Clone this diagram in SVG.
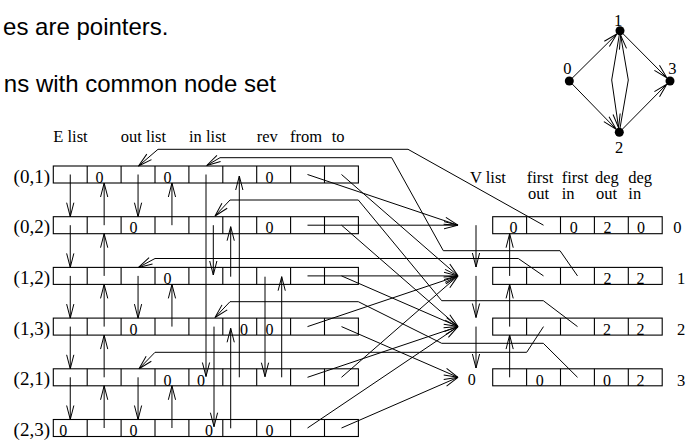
<svg xmlns="http://www.w3.org/2000/svg" width="689" height="440" viewBox="0 0 689 440">
<style>
.b{fill:none;stroke:#000;stroke-width:1.1}
.p{fill:none;stroke:#000;stroke-width:1;marker-end:url(#ah)}
.s{font-family:"Liberation Serif","Times New Roman",serif;font-size:16.5px;fill:#000}
.d{font-family:"Liberation Serif","Times New Roman",serif;font-size:16px;text-anchor:middle;fill:#000}
.l{font-family:"Liberation Serif","Times New Roman",serif;font-size:19px;text-anchor:end;fill:#000}
.h{font-family:"Liberation Sans",Arial,sans-serif;font-size:24px;text-anchor:end;fill:#000}
.n{fill:#000}
</style>
<defs>
<marker id="ah" markerUnits="userSpaceOnUse" markerWidth="16" markerHeight="10" viewBox="-15 -5 16 10" refX="0" refY="0" orient="auto"><path d="M-14,-3.6 L0,0 L-14,3.6" fill="none" stroke="#000" stroke-width="1"/></marker>
<g id="erow"><rect x="53.3" y="0" width="305.1" height="17"/><path d="M87.2,0v17M121.1,0v17M155,0v17M188.9,0v17M222.8,0v17M256.7,0v17M290.6,0v17M324.5,0v17"/></g>
<g id="vrow"><rect x="492.7" y="0" width="169.5" height="17"/><path d="M526.6,0v17M560.5,0v17M594.4,0v17M628.3,0v17"/></g>
</defs>
<rect width="689" height="440" fill="#fff"/>
<text class="h" x="168.5" y="34.5">es are pointers.</text>
<text class="h" x="276" y="91.5">ns with common node set</text>
<g id="headers">
<text class="s" x="53.3" y="141.7">E list</text>
<text class="s" x="120.7" y="141.7">out list</text>
<text class="s" x="189" y="141.7">in list</text>
<text class="s" x="256.7" y="141.7">rev</text>
<text class="s" x="290" y="141.7">from</text>
<text class="s" x="331.7" y="141.7">to</text>
<text class="s" x="470" y="183.3">V list</text>
<text class="s" x="526.7" y="183.3">first</text>
<text class="s" x="528" y="199.3">out</text>
<text class="s" x="561.7" y="183.3">first</text>
<text class="s" x="561.7" y="199.3">in</text>
<text class="s" x="595" y="183.3">deg</text>
<text class="s" x="596" y="199.3">out</text>
<text class="s" x="628.3" y="183.3">deg</text>
<text class="s" x="628.3" y="199.3">in</text>
</g>
<g id="e01"><use href="#erow" y="166" class="b"/><text class="l" x="50" y="182.5">(0,1)</text><text class="d" x="99.5" y="182.7">0</text><text class="d" x="167.5" y="182.7">0</text><text class="d" x="269.5" y="182.7">0</text></g>
<g id="e02"><use href="#erow" y="216.7" class="b"/><text class="l" x="50" y="233.2">(0,2)</text><text class="d" x="133.5" y="233.4">0</text><text class="d" x="269.5" y="233.4">0</text></g>
<g id="e12"><use href="#erow" y="267.4" class="b"/><text class="l" x="50" y="283.9">(1,2)</text><text class="d" x="167.5" y="284.1">0</text></g>
<g id="e13"><use href="#erow" y="318.1" class="b"/><text class="l" x="50" y="334.6">(1,3)</text><text class="d" x="133.5" y="334.8">0</text><text class="d" x="244" y="334.8">0</text><text class="d" x="269.5" y="334.8">0</text></g>
<g id="e21"><use href="#erow" y="368.8" class="b"/><text class="l" x="50" y="385.3">(2,1)</text><text class="d" x="167.5" y="385.5">0</text><text class="d" x="201" y="385.5">0</text></g>
<g id="e23"><use href="#erow" y="419.5" class="b"/><text class="l" x="50" y="436">(2,3)</text><text class="d" x="63.3" y="436.2">0</text><text class="d" x="133.5" y="436.2">0</text><text class="d" x="209" y="436.2">0</text><text class="d" x="269.5" y="436.2">0</text></g>
<g id="v0"><use href="#vrow" y="216.7" class="b"/><text class="d" x="513.5" y="233.4">0</text><text class="d" x="573.7" y="233.4">0</text><text class="d" x="607.5" y="233.4">2</text><text class="d" x="641" y="233.4">0</text><text class="s" x="673.3" y="233.4">0</text></g>
<g id="v1"><use href="#vrow" y="267.4" class="b"/><text class="d" x="607.5" y="284.1">2</text><text class="d" x="640.5" y="284.1">2</text><text class="s" x="677" y="284.1">1</text></g>
<g id="v2"><use href="#vrow" y="318.1" class="b"/><text class="d" x="607" y="334.8">2</text><text class="d" x="640.5" y="334.8">2</text><text class="s" x="677" y="334.8">2</text></g>
<g id="v3"><use href="#vrow" y="368.8" class="b"/><text class="d" x="471.7" y="385.3">0</text><text class="d" x="539.7" y="385.5">0</text><text class="d" x="607" y="385.5">0</text><text class="d" x="640.5" y="385.5">2</text><text class="s" x="677" y="385.5">3</text></g>
<g id="graph">
<g id="g0"><circle class="n" cx="569.3" cy="81" r="4.5"/><text class="s" x="563.3" y="74">0</text></g>
<g id="g1"><circle class="n" cx="620" cy="30.7" r="4.5"/><text class="s" x="614" y="26">1</text></g>
<g id="g2"><circle class="n" cx="619.3" cy="132.3" r="4.5"/><text class="s" x="615" y="153.3">2</text></g>
<g id="g3"><circle class="n" cx="670" cy="81" r="4.5"/><text class="s" x="668.3" y="74">3</text></g>
</g>
<g id="connectors">
<path class="p" d="M569.3,81L616.8,34"/>
<path class="p" d="M569.3,81L616.2,129.2"/>
<path class="p" d="M620,30.7L666.8,77.8"/>
<path class="p" d="M619.3,132.3L666.8,84.2"/>
<path class="p" d="M620,30.7L611.7,80L618.6,127.8"/>
<path class="p" d="M619.3,132.3L628.3,80L620.6,35.2"/>
<path class="p" d="M70.25,174.5V216.7"/>
<path class="p" d="M70.25,225.2V267.4"/>
<path class="p" d="M70.25,275.9V318.1"/>
<path class="p" d="M70.25,326.6V368.8"/>
<path class="p" d="M70.25,377.3V419.5"/>
<path class="p" d="M104.15,225.2V183"/>
<path class="p" d="M104.15,275.9V233.7"/>
<path class="p" d="M104.15,326.6V284.4"/>
<path class="p" d="M104.15,377.3V335.1"/>
<path class="p" d="M104.15,428V385.8"/>
<path class="p" d="M138.05,174.5V216.7"/>
<path class="p" d="M138.05,275.9V318.1"/>
<path class="p" d="M138.05,377.3V419.5"/>
<path class="p" d="M171.95,225.2V183"/>
<path class="p" d="M171.95,326.6V284.4"/>
<path class="p" d="M171.95,428V385.8"/>
<path class="p" d="M206,174.5V376.5"/>
<path class="p" d="M239.3,377.3V176"/>
<path class="p" d="M213.3,225.2V275"/>
<path class="p" d="M230.7,276.7V226.7"/>
<path class="p" d="M214,326.6V426.7"/>
<path class="p" d="M230.7,428.3V328.3"/>
<path class="p" d="M265,276.7V376.7"/>
<path class="p" d="M281.7,377.3V276.7"/>
<path class="p" d="M307.5,174.5L458,225.2"/>
<path class="p" d="M341.5,174.5L458,275.9"/>
<path class="p" d="M307.5,225.2L458,225.2"/>
<path class="p" d="M341.5,225.2L458,326.6"/>
<path class="p" d="M307.5,275.9L458,275.9"/>
<path class="p" d="M341.5,275.9L458,326.6"/>
<path class="p" d="M307.5,326.6L458,275.9"/>
<path class="p" d="M341.5,326.6L458,377.3"/>
<path class="p" d="M307.5,377.3L458,326.6"/>
<path class="p" d="M341.5,377.3L458,275.9"/>
<path class="p" d="M307.5,428L458,326.6"/>
<path class="p" d="M341.5,428L458,377.3"/>
<path class="p" d="M476,225.2V267"/>
<path class="p" d="M476,275.9V317.5"/>
<path class="p" d="M476,326.6V368"/>
<path class="p" d="M509.65,275.9V233.7"/>
<path class="p" d="M509.65,326.6V284.4"/>
<path class="p" d="M509.65,377.3V335.1"/>
<path class="p" d="M543.5,225.2L408,149.3H158L138.5,166"/>
<path class="p" d="M543.5,275.9L518.3,258.5H155L138.5,267.4"/>
<path class="p" d="M543.5,326.6L526.7,352.3H155L139,368.8"/>
<path class="p" d="M577.5,275.9L560,250.7H443.3L391.7,157.7H220L206.7,165.5"/>
<path class="p" d="M577.5,326.6L543.3,300.7H441.7L358.3,200H230L215,216"/>
<path class="p" d="M577.5,377.3L543.3,343.3H441.7L358.3,301.7H230L215,317.5"/>
</g>
</svg>
